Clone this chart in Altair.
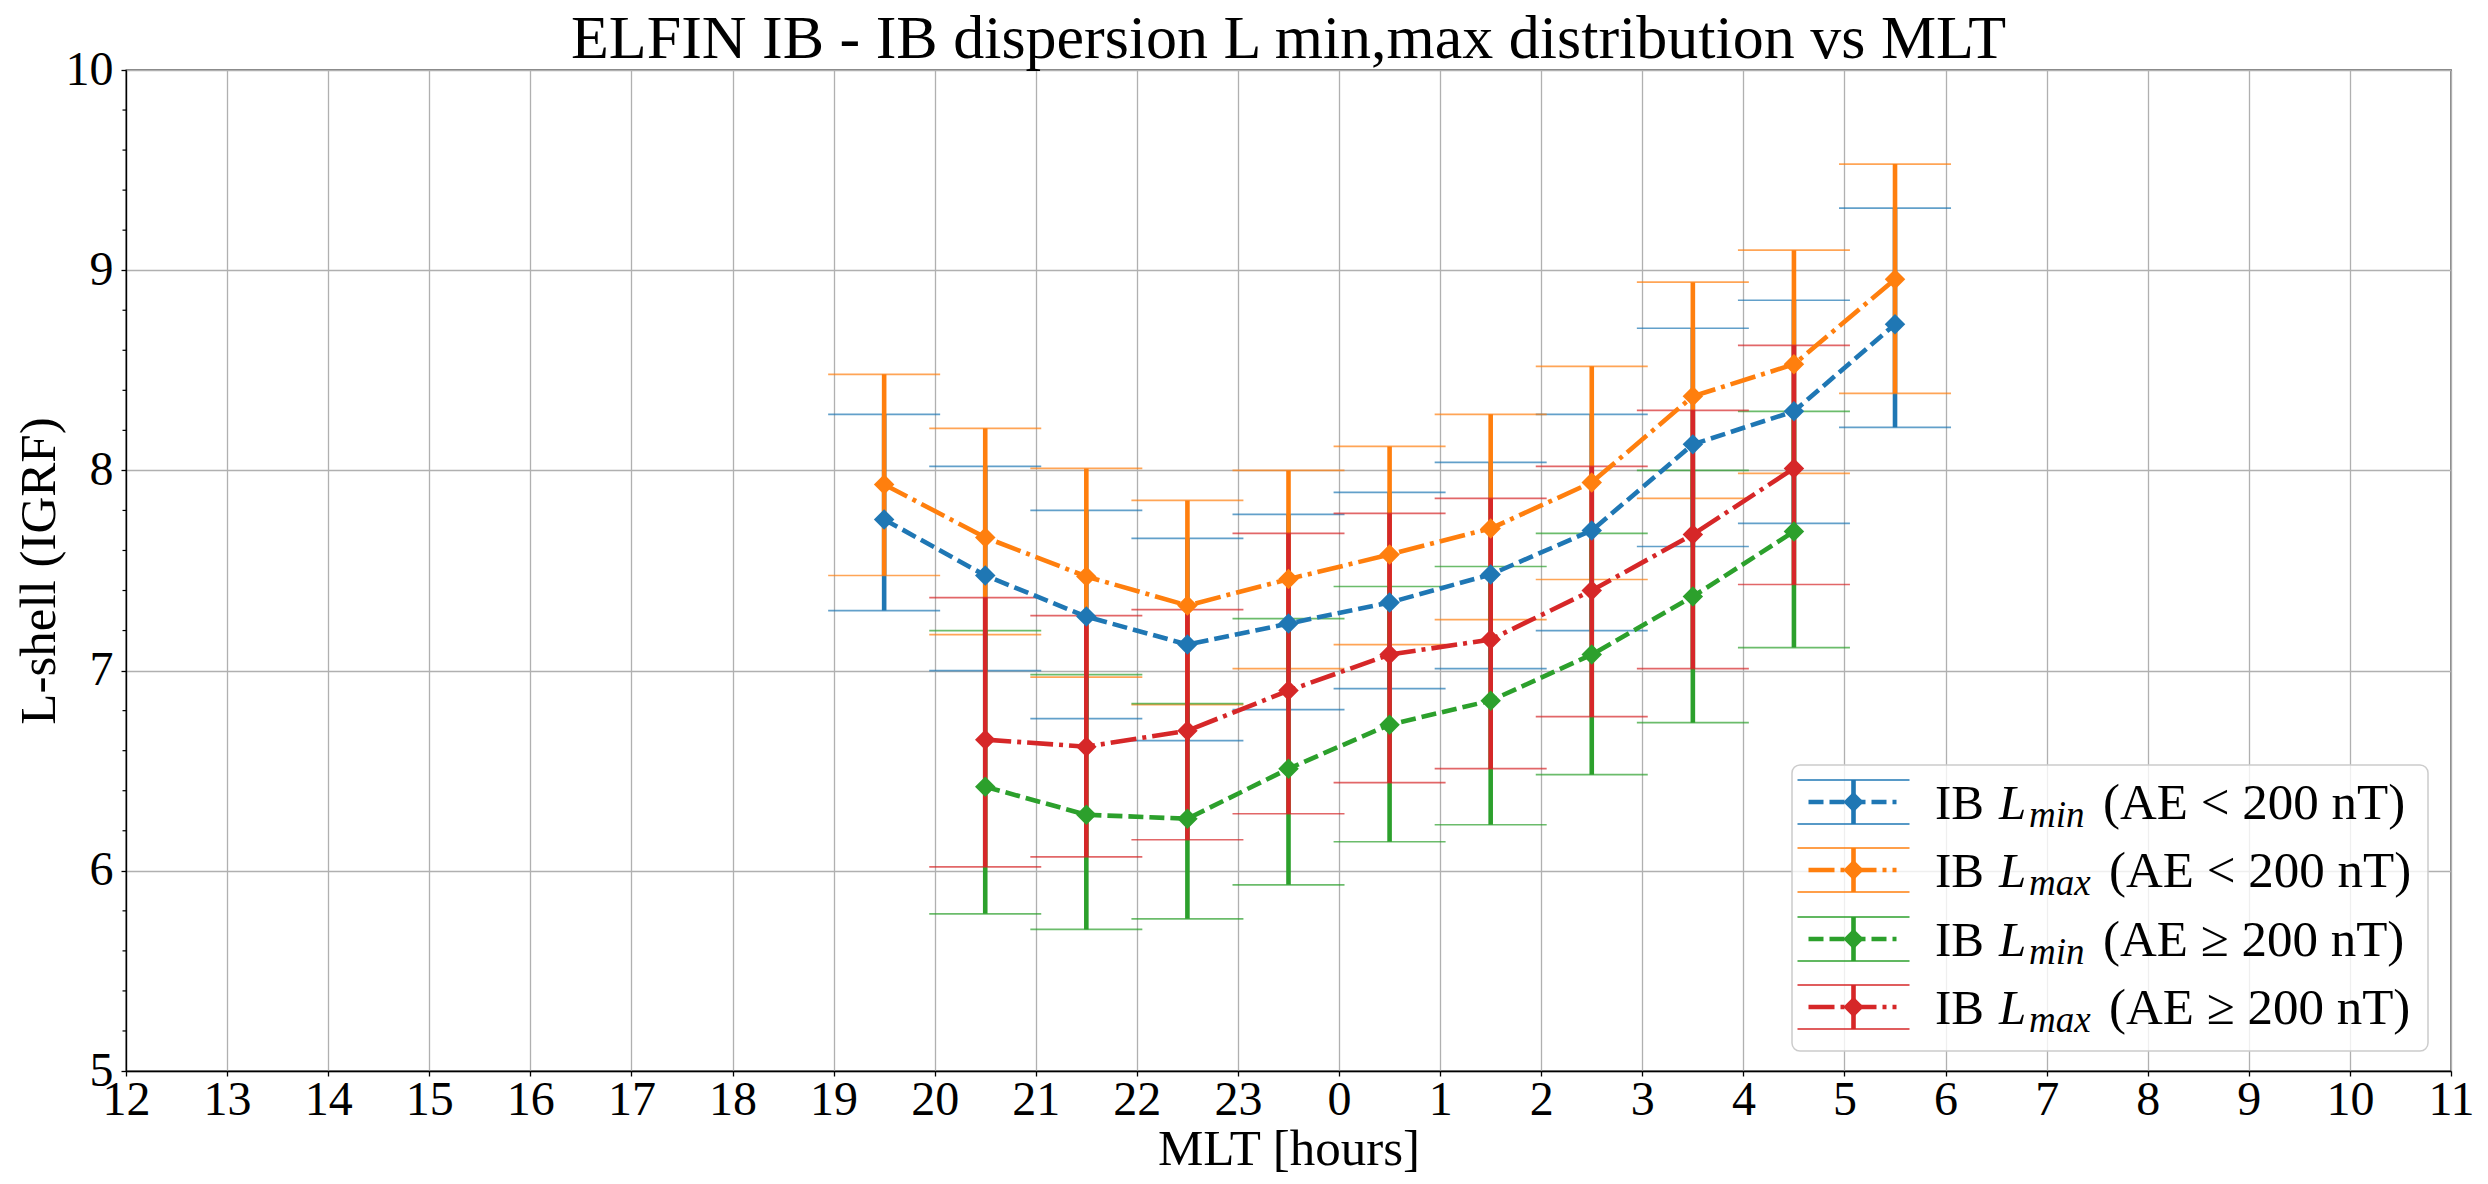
import altair as alt
import pandas as pd

# ---------------- data ----------------
mlt_quiet = [19.5, 20.5, 21.5, 22.5, 23.5, 0.5, 1.5, 2.5, 3.5, 4.5, 5.5]
mlt_active = [20.5, 21.5, 22.5, 23.5, 0.5, 1.5, 2.5, 3.5, 4.5]

lmin_quiet = [7.755, 7.475, 7.27, 7.13, 7.235, 7.34, 7.48, 7.70, 8.13, 8.295, 8.73]
lmin_quiet_hi = [8.28, 8.02, 7.80, 7.66, 7.78, 7.89, 8.04, 8.28, 8.71, 8.85, 9.31]
lmin_quiet_lo = [7.30, 7.00, 6.76, 6.65, 6.805, 6.91, 7.01, 7.20, 7.62, 7.735, 8.215]

lmax_quiet = [7.93, 7.665, 7.47, 7.325, 7.457, 7.58, 7.71, 7.94, 8.37, 8.53, 8.955]
lmax_quiet_hi = [8.48, 8.21, 8.01, 7.85, 8.00, 8.12, 8.28, 8.52, 8.94, 9.10, 9.53]
lmax_quiet_lo = [7.475, 7.18, 6.967, 6.83, 7.01, 7.13, 7.255, 7.455, 7.86, 7.985, 8.385]

lmin_active = [6.42, 6.28, 6.26, 6.51, 6.73, 6.85, 7.08, 7.37, 7.695]
lmin_active_hi = [7.20, 6.98, 6.835, 7.26, 7.42, 7.52, 7.685, 8.00, 8.295]
lmin_active_lo = [5.785, 5.707, 5.76, 5.93, 6.145, 6.23, 6.48, 6.74, 7.115]

lmax_active = [6.655, 6.62, 6.70, 6.90, 7.08, 7.155, 7.40, 7.68, 8.01]
lmax_active_hi = [7.365, 7.275, 7.305, 7.685, 7.785, 7.86, 8.02, 8.30, 8.625]
lmax_active_lo = [6.02, 6.07, 6.155, 6.285, 6.44, 6.51, 6.77, 7.01, 7.43]

hour_ticks = [12, 13, 14, 15, 16, 17, 18, 19, 20, 21, 22, 23, 0, 1, 2, 3, 4, 5, 6, 7, 8, 9, 10, 11]
y_ticks = [5, 6, 7, 8, 9, 10]
y_minor = [5.2, 5.4, 5.6, 5.8, 6.2, 6.4, 6.6, 6.8, 7.2, 7.4, 7.6, 7.8,
           8.2, 8.4, 8.6, 8.8, 9.2, 9.4, 9.6, 9.8]

series = [
    dict(sub="min", rel="<", color="#1f77b4", dash=[15, 6],
         mlt=mlt_quiet, c=lmin_quiet, hi=lmin_quiet_hi, lo=lmin_quiet_lo),
    dict(sub="max", rel="<", color="#ff7f0e", dash=[26, 6, 4, 6],
         mlt=mlt_quiet, c=lmax_quiet, hi=lmax_quiet_hi, lo=lmax_quiet_lo),
    dict(sub="min", rel="\u2265", color="#2ca02c", dash=[15, 6],
         mlt=mlt_active, c=lmin_active, hi=lmin_active_hi, lo=lmin_active_lo),
    dict(sub="max", rel="\u2265", color="#d62728", dash=[26, 6, 4, 6],
         mlt=mlt_active, c=lmax_active, hi=lmax_active_hi, lo=lmax_active_lo),
]

FONT = "Liberation Serif"
W, H = 2325, 1001

x_pos = [h if h >= 12 else h + 24 for h in hour_ticks]


def X(field):
    return alt.X(field, type="quantitative",
                 scale=alt.Scale(domain=[12, 35], nice=False, zero=False),
                 axis=alt.Axis(values=x_pos, labelExpr="datum.value % 24",
                               title="MLT [hours]", grid=True))


def Y(field):
    return alt.Y(field, type="quantitative",
                 scale=alt.Scale(domain=[5, 10], nice=False, zero=False),
                 axis=alt.Axis(values=y_ticks, title="L-shell (IGRF)", grid=True))


def frame(s):
    x = [h if h >= 12 else h + 24 for h in s["mlt"]]
    return pd.DataFrame({"x": x, "c": s["c"], "hi": s["hi"], "lo": s["lo"]})


layers = []

# minor ticks on the y axis
minor_df = pd.DataFrame({"v": y_minor})
layers.append(
    alt.Chart(minor_df).mark_rule(color="black", strokeWidth=1.2).encode(
        y=Y("v"), x=alt.value(-3.5), x2=alt.value(0)
    )
)

# error bars and caps, series by series
for s in series:
    df = frame(s)
    base = alt.Chart(df)
    layers.append(base.mark_rule(color=s["color"], strokeWidth=4.6).encode(
        x=X("x"), y=Y("lo"), y2="hi"))
    layers.append(base.mark_tick(color=s["color"], orient="horizontal", size=112,
                                 thickness=1.7).encode(x=X("x"), y=Y("hi")))
    layers.append(base.mark_tick(color=s["color"], orient="horizontal", size=112,
                                 thickness=1.7).encode(x=X("x"), y=Y("lo")))

# lines and markers
for s in series:
    df = frame(s)
    base = alt.Chart(df)
    layers.append(base.mark_line(color=s["color"], strokeWidth=4.6,
                                 strokeDash=s["dash"]).encode(x=X("x"), y=Y("c")))
    layers.append(base.mark_point(shape="diamond", filled=True, size=420, opacity=1,
                                  color=s["color"]).encode(x=X("x"), y=Y("c")))

# ---------------- legend ----------------
one = pd.DataFrame({"k": [0]})
LX0, LX1, LY0, LY1 = 1666, 2302, 695, 981
layers.append(
    alt.Chart(one).mark_rect(fill="white", fillOpacity=0.8, stroke="#cccccc",
                             strokeWidth=1.5, cornerRadius=8).encode(
        x=alt.value(LX0), x2=alt.value(LX1), y=alt.value(LY0), y2=alt.value(LY1))
)
row_y = [732, 800, 869, 937]
HX = 1727.5
for s, ry in zip(series, row_y):
    c = s["color"]
    layers.append(alt.Chart(one).mark_rule(color=c, strokeWidth=4.6).encode(
        x=alt.value(HX), y=alt.value(ry - 22), y2=alt.value(ry + 22)))
    for cy in (ry - 22, ry + 22):
        layers.append(alt.Chart(one).mark_rule(color=c, strokeWidth=1.7).encode(
            x=alt.value(HX - 56), x2=alt.value(HX + 56), y=alt.value(cy)))
    layers.append(alt.Chart(one).mark_rule(color=c, strokeWidth=4.6, strokeDash=s["dash"]).encode(
        x=alt.value(HX - 45), x2=alt.value(HX + 43), y=alt.value(ry)))
    layers.append(alt.Chart(one).mark_point(shape="diamond", filled=True, size=420,
                                            opacity=1, color=c).encode(
        x=alt.value(HX), y=alt.value(ry)))
    layers.append(alt.Chart(one).mark_text(font=FONT, fontSize=49, align="left",
                                           baseline="alphabetic", color="black").encode(
        x=alt.value(1809), y=alt.value(ry + 17), text=alt.value("IB")))
    layers.append(alt.Chart(one).mark_text(font=FONT, fontSize=49, fontStyle="italic",
                                           align="left", baseline="alphabetic",
                                           color="black").encode(
        x=alt.value(1873), y=alt.value(ry + 17), text=alt.value("L")))
    layers.append(alt.Chart(one).mark_text(font=FONT, fontSize=37, fontStyle="italic",
                                           align="left", baseline="alphabetic",
                                           color="black").encode(
        x=alt.value(1903), y=alt.value(ry + 25), text=alt.value(s["sub"])))
    tx = 1977 if s["sub"] == "min" else 1983
    layers.append(alt.Chart(one).mark_text(font=FONT, fontSize=51, align="left",
                                           baseline="alphabetic", color="black").encode(
        x=alt.value(tx), y=alt.value(ry + 17),
        text=alt.value("(AE " + s["rel"] + " 200 nT)")))

chart = alt.layer(*layers).properties(
    width=W, height=H,
    padding={"left": 5, "top": 0, "right": 5, "bottom": 0},
    title=alt.TitleParams("ELFIN IB - IB dispersion L min,max distribution vs MLT",
                          font=FONT, fontSize=62, fontWeight="normal", anchor="middle",
                          frame="group", offset=-25, color="black"),
).configure_view(stroke="black", strokeWidth=1.3).configure_axis(
    labelFont=FONT, labelFontSize=48, labelColor="black",
    titleFont=FONT, titleFontSize=51, titleFontWeight="normal", titleColor="black",
    domainColor="black", domainWidth=1.3, tickColor="black", tickWidth=1.3, tickSize=5,
    gridColor="#b0b0b0", gridWidth=1.3, gridOpacity=1,
).configure_axisX(labelPadding=0, titlePadding=0, labelFlush=False
).configure_axisY(labelPadding=8, titlePadding=0)

chart.save("out.html", embed_options={"renderer": "svg", "actions": False})
